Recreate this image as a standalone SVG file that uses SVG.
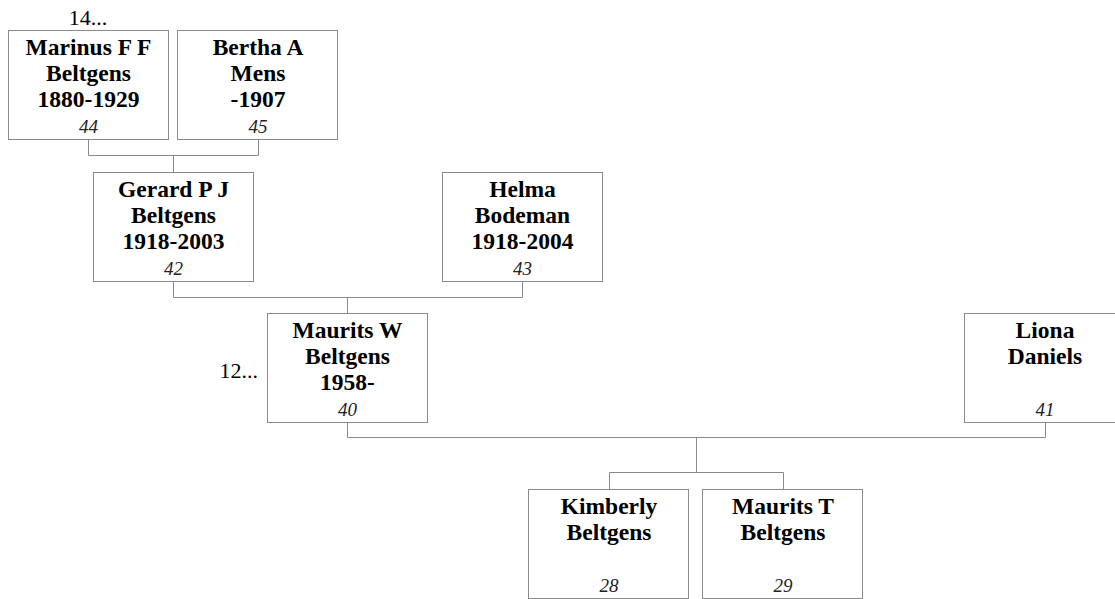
<svg xmlns="http://www.w3.org/2000/svg" width="1115" height="599" viewBox="0 0 1115 599">
<style>
.box{fill:#fff;stroke:#8a8a8a;stroke-width:1}
.con{fill:none;stroke:#8a8a8a;stroke-width:1}
.nm{font-family:"Liberation Serif","Times New Roman",serif;font-weight:bold;font-size:23.5px;fill:#000;text-anchor:middle}
.id{font-family:"Liberation Serif","Times New Roman",serif;font-style:italic;font-size:19px;fill:#222;text-anchor:middle}
.more{font-family:"Liberation Serif","Times New Roman",serif;font-size:22px;fill:#000}
</style>
<rect width="1115" height="599" fill="#fff"/>
<g id="connectors">
<path class="con" d="M88.5 139.5V155.5H258.5V139.5M173.5 155.5V172.5"/>
<path class="con" d="M173.5 281.5V297.5H522.5V281.5M347.5 297.5V313.5"/>
<path class="con" d="M347.5 422.5V437.5H1045.5V422.5M696.5 437.5V472.5M609.5 472.5H783.5M609.5 472.5V489.5M783.5 472.5V489.5"/>
</g>
<g id="p44">
<text class="more" x="88" y="25" text-anchor="middle">14...</text>
<rect class="box" x="8.5" y="30.5" width="160" height="109"/>
<text class="nm"><tspan x="88.5" y="55">Marinus F F</tspan><tspan x="88.5" y="81">Beltgens</tspan><tspan x="88.5" y="107">1880-1929</tspan></text>
<text class="id" x="88.5" y="133">44</text>
</g>
<g id="p45">
<rect class="box" x="177.5" y="30.5" width="160" height="109"/>
<text class="nm"><tspan x="258" y="55">Bertha A</tspan><tspan x="258" y="81">Mens</tspan><tspan x="258" y="107">-1907</tspan></text>
<text class="id" x="258" y="133">45</text>
</g>
<g id="p42">
<rect class="box" x="93.5" y="172.5" width="160" height="109"/>
<text class="nm"><tspan x="173.5" y="197">Gerard P J</tspan><tspan x="173.5" y="223">Beltgens</tspan><tspan x="173.5" y="249">1918-2003</tspan></text>
<text class="id" x="173.5" y="275">42</text>
</g>
<g id="p43">
<rect class="box" x="442.5" y="172.5" width="160" height="109"/>
<text class="nm"><tspan x="522.5" y="197">Helma</tspan><tspan x="522.5" y="223">Bodeman</tspan><tspan x="522.5" y="249">1918-2004</tspan></text>
<text class="id" x="522.5" y="275">43</text>
</g>
<g id="p40">
<text class="more" x="258" y="378" text-anchor="end">12...</text>
<rect class="box" x="267.5" y="313.5" width="160" height="109"/>
<text class="nm"><tspan x="347.5" y="338">Maurits W</tspan><tspan x="347.5" y="364">Beltgens</tspan><tspan x="347.5" y="390">1958-</tspan></text>
<text class="id" x="347.5" y="416">40</text>
</g>
<g id="p41">
<rect class="box" x="964.5" y="313.5" width="160" height="109"/>
<text class="nm"><tspan x="1045" y="338">Liona</tspan><tspan x="1045" y="364">Daniels</tspan></text>
<text class="id" x="1045" y="416">41</text>
</g>
<g id="p28">
<rect class="box" x="528.5" y="489.5" width="160" height="109"/>
<text class="nm"><tspan x="609" y="514">Kimberly</tspan><tspan x="609" y="540">Beltgens</tspan></text>
<text class="id" x="609" y="592">28</text>
</g>
<g id="p29">
<rect class="box" x="702.5" y="489.5" width="160" height="109"/>
<text class="nm"><tspan x="783" y="514">Maurits T</tspan><tspan x="783" y="540">Beltgens</tspan></text>
<text class="id" x="783" y="592">29</text>
</g>
</svg>
